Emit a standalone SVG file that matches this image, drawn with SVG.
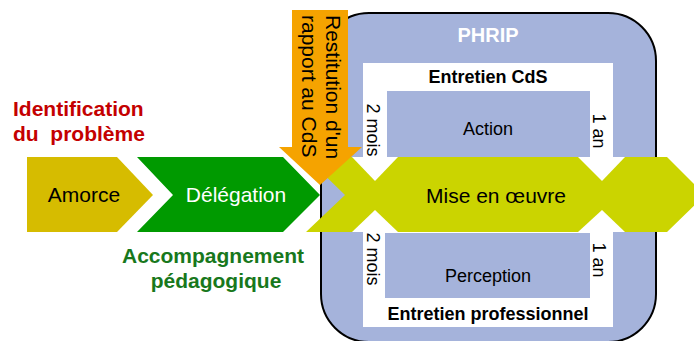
<svg xmlns="http://www.w3.org/2000/svg" width="694" height="341" viewBox="0 0 694 341">
  <style>
    text { font-family: "Liberation Sans", Arial, sans-serif; }
    .big { font-size: 21px; }
    .small { font-size: 18px; }
    .b { font-weight: bold; }
    .mid { text-anchor: middle; }
    .blue { fill: #a5b3db; }
    .white { fill: #ffffff; }
  </style>
  <rect width="694" height="341" fill="#ffffff"/>

  <g id="phrip">
    <rect x="321" y="13" width="335" height="329" rx="48" ry="48" class="blue" stroke="#000000" stroke-width="2"/>
    <text x="488" y="42" class="big b mid" fill="#ffffff" style="font-size:20px">PHRIP</text>
  </g>

  <g id="entretien-cds">
    <rect x="363" y="63" width="250" height="264" class="white"/>
    <text x="488" y="83" class="small b mid" fill="#000000">Entretien CdS</text>
    <text x="488" y="327" class="small b mid" fill="#000000" transform="translate(0,-7)">Entretien professionnel</text>
  </g>

  <g id="action">
    <rect x="387" y="91" width="203" height="66" class="blue"/>
    <text x="488" y="135" class="small mid" fill="#000000">Action</text>
  </g>

  <g id="perception">
    <rect x="385" y="233" width="205" height="65" class="blue"/>
    <text x="488" y="282" class="small mid" fill="#000000">Perception</text>
  </g>

  <g id="durations">
    <text class="small mid" fill="#000000" transform="translate(367,130) rotate(90)">2 mois</text>
    <text class="small mid" fill="#000000" transform="translate(367,259) rotate(90)">2 mois</text>
    <text class="small mid" fill="#000000" transform="translate(593,131) rotate(90)">1 an</text>
    <text class="small mid" fill="#000000" transform="translate(593,260) rotate(90)">1 an</text>
  </g>

  <g id="mise-en-oeuvre">
    <polygon points="306,157 667,157 705,195 667,232 306,232 345,195" fill="#cbd400"/>
    <polygon points="352,157 398,157 375,181" class="white"/>
    <polygon points="352,232 398,232 375,210" class="white"/>
    <polygon points="578,157 625,157 602,181" class="white"/>
    <polygon points="578,232 625,232 602,210" class="white"/>
    <text x="496" y="203" class="big mid" fill="#000000">Mise en œuvre</text>
  </g>

  <g id="amorce">
    <polygon points="27,157 117,157 153,195 117,232 27,232" fill="#d6bc00"/>
    <text x="84" y="202" class="big mid" fill="#000000">Amorce</text>
  </g>

  <g id="delegation">
    <polygon points="137,157 283,157 320,195 283,232 137,232 173,195" fill="#009a00"/>
    <text x="236" y="202" class="big mid" fill="#ffffff">Délégation</text>
  </g>

  <g id="restitution">
    <polygon points="292,10 348,10 348,147 362,147 320,185 279,147 292,147" fill="#f5a300"/>
    <text class="big" fill="#000000" transform="translate(326,15) rotate(90)">
      <tspan x="0" y="0">Restitution d'un</tspan>
      <tspan x="0" y="24">rapport au CdS</tspan>
    </text>
  </g>

  <g id="labels">
    <text x="13" y="116" class="big b" fill="#c40000">Identification</text>
    <text x="13" y="141" class="big b" fill="#c40000" xml:space="preserve" style="white-space:pre">du  problème</text>
    <text x="213" y="263" class="big b mid" fill="#18781c">Accompagnement</text>
    <text x="216" y="288" class="big b mid" fill="#18781c">pédagogique</text>
  </g>

  <g id="connectors"/>
</svg>
